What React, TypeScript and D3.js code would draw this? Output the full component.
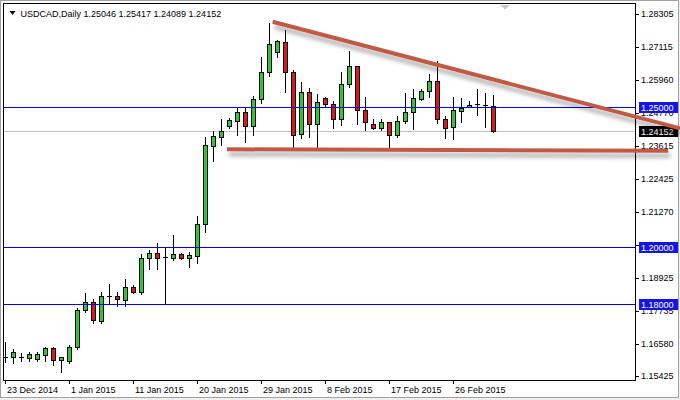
import * as d3 from 'd3';

// trading days (MT4 broker: no Saturday bars)
const dates = d3.timeDay
  .range(new Date(2014, 11, 23), new Date(2015, 2, 5))
  .filter(d => d.getDay() !== 6);

const opens = [
  1.16112, 1.16112, 1.16112, 1.16076, 1.16030, 1.16172, 1.16411, 1.15994, 1.15969, 1.16468,
  1.17773, 1.18069, 1.17393, 1.18271, 1.18271, 1.18129, 1.18602, 1.18414, 1.19613, 1.19791,
  1.19670, 1.19634, 1.19755, 1.19634, 1.19705, 1.20822, 1.23619, 1.23939, 1.24320, 1.24509,
  1.24807, 1.24331, 1.25270, 1.26231, 1.26964, 1.27319, 1.26241, 1.24025, 1.25519, 1.24381,
  1.25306, 1.25092, 1.24558, 1.25804, 1.26444, 1.24889, 1.24381, 1.24260, 1.24452, 1.24000,
  1.24498, 1.24807, 1.25270, 1.25565, 1.25921, 1.24569, 1.24267, 1.24864, 1.24985, 1.25092,
  1.25060, 1.25046,
];
const highs = [
  1.16645, 1.16386, 1.16233, 1.16268, 1.16290, 1.16468, 1.16468, 1.16112, 1.16528, 1.17834,
  1.18378, 1.18165, 1.18414, 1.18688, 1.18403, 1.18876, 1.18652, 1.19755, 1.19908, 1.20146,
  1.19969, 1.20442, 1.19801, 1.19848, 1.21118, 1.23939, 1.24160, 1.24558, 1.24615, 1.24943,
  1.24971, 1.25387, 1.26764, 1.27985, 1.27380, 1.27736, 1.26313, 1.25903, 1.25661, 1.25448,
  1.25341, 1.25210, 1.26231, 1.26989, 1.26460, 1.25341, 1.24569, 1.24569, 1.24473, 1.24687,
  1.25484, 1.25636, 1.25636, 1.26170, 1.26633, 1.24687, 1.25352, 1.25306, 1.25210, 1.25626,
  1.25484, 1.25417,
];
const lows = [
  1.15934, 1.15877, 1.15969, 1.15969, 1.15969, 1.15969, 1.15816, 1.15578, 1.15898, 1.16375,
  1.17713, 1.17300, 1.17321, 1.18033, 1.17916, 1.17926, 1.18367, 1.18332, 1.19221, 1.19221,
  1.17987, 1.19552, 1.19588, 1.19293, 1.19456, 1.20559, 1.23085, 1.23662, 1.24260, 1.24010,
  1.23761, 1.24000, 1.25128, 1.26099, 1.26786, 1.25540, 1.23527, 1.23882, 1.23939, 1.23548,
  1.25042, 1.24260, 1.24356, 1.25718, 1.24391, 1.24178, 1.24231, 1.24178, 1.23584, 1.23939,
  1.24416, 1.24213, 1.25245, 1.25362, 1.24416, 1.23882, 1.23847, 1.24473, 1.24980, 1.24711,
  1.24295, 1.24089,
];
const closes = [
  1.16112, 1.16290, 1.16112, 1.16208, 1.16208, 1.16411, 1.15994, 1.16090, 1.16468, 1.17773,
  1.18069, 1.17407, 1.18271, 1.18271, 1.18154, 1.18581, 1.18424, 1.19613, 1.19791, 1.19634,
  1.19670, 1.19755, 1.19634, 1.19730, 1.20822, 1.23644, 1.23964, 1.24142, 1.24534, 1.24807,
  1.24331, 1.25270, 1.26231, 1.27227, 1.27355, 1.26231, 1.24010, 1.25519, 1.24381, 1.25174,
  1.25092, 1.24558, 1.25804, 1.26444, 1.24889, 1.24452, 1.24260, 1.24452, 1.24000, 1.24498,
  1.24807, 1.25306, 1.25576, 1.25921, 1.24558, 1.24260, 1.24879, 1.24971, 1.25067, 1.25092,
  1.25060, 1.24152,
];

const priceTicks = [
  1.28305, 1.27115, 1.25960, 1.24770, 1.23615, 1.22425, 1.21270, 1.20080, 1.18925, 1.17735,
  1.16580, 1.15425,
];
const levels = [1.25, 1.2, 1.18];

// hand-drawn trendlines: [bar index, price] pairs
const trendlines = [
  { i0: 33.46, p0: 1.28031, i1: 84.4, p1: 1.24235 },
  { i0: 27.75, p0: 1.23491, i1: 82.9, p1: 1.23441 },
];

const W = 680;
const H = 400;
const plot = { left: 4, top: 4, right: 635, bottom: 380 };

const GREEN = '#2ccb2c';
const RED = '#d81a1a';
const LEVEL = '#0000ff';
const LEVEL_BOX = '#1414e6';
const TREND = '#c05a45';

export default function App() {
  const n = dates.length;
  const x = d3.scaleLinear().domain([0, 1]).range([5, 13]);
  const y = d3.scaleLinear().domain([1.15283, 1.28661]).range([plot.bottom, plot.top]);
  const fmtPrice = d3.format('.5f');
  const fmtDate = d3.timeFormat('%-d %b %Y');
  const crisp = (v: number) => Math.round(v) + 0.5;
  const last = n - 1;
  const bid = closes[last];

  const dateTicks = d3.range(0, n, 8);

  return (
    <svg
      width={W}
      height={H}
      style={{ position: 'absolute', left: 0, top: 0, fontFamily: '"Liberation Sans", Arial, sans-serif' }}
    >
      <defs>
        <clipPath id="plot-clip">
          <rect x={plot.left} y={plot.top} width={plot.right - plot.left} height={plot.bottom - plot.top} />
        </clipPath>
        <filter id="shadow" filterUnits="userSpaceOnUse" x={0} y={0} width={W} height={H}>
          <feDropShadow dx={2} dy={5} stdDeviation={2} floodColor="#000" floodOpacity={0.32} />
        </filter>
      </defs>

      <rect width={W} height={H} fill="#f0f0f0" />
      <rect x={0.5} y={0.5} width={W - 2} height={H - 3} fill="#fff" stroke="#a0a0a0" />

      <g clipPath="url(#plot-clip)">
        <rect x={plot.left} y={Math.round(y(bid))} width={plot.right - plot.left} height={1} fill="#c0c0c0" />

        {dates.map((d, i) => {
          const cx = Math.round(x(i));
          const o = opens[i];
          const c = closes[i];
          const yTop = y(Math.max(o, c));
          const yBot = y(Math.min(o, c));
          const doji = Math.abs(yBot - yTop) < 1;
          return (
            <g key={i}>
              <line x1={cx + 0.5} x2={cx + 0.5} y1={Math.round(y(highs[i]))} y2={Math.round(y(lows[i])) + 1} stroke="#000" />
              {doji ? (
                <line x1={cx - 2} x2={cx + 3} y1={crisp(yTop)} y2={crisp(yTop)} stroke="#000" />
              ) : (
                <rect
                  x={cx - 1.5}
                  y={Math.round(yTop) + 0.5}
                  width={4}
                  height={Math.max(1, Math.round(yBot) - Math.round(yTop))}
                  fill={c >= o ? GREEN : RED}
                  stroke="#000"
                />
              )}
            </g>
          );
        })}
      </g>

      {/* horizontal levels */}
      {levels.map(l => (
        <rect
          key={`lvl-${l}`}
          x={plot.left}
          y={Math.round(y(l))}
          width={plot.right - plot.left}
          height={1}
          fill={LEVEL}
          shapeRendering="crispEdges"
        />
      ))}

      <rect
        x={plot.left - 0.5}
        y={plot.top - 0.5}
        width={plot.right - plot.left + 1}
        height={plot.bottom - plot.top + 1}
        fill="none"
        stroke="#000"
      />

      {/* price axis */}
      {priceTicks.map(t => (
        <g key={t} transform={`translate(0,${Math.round(y(t))})`}>
          <line x1={plot.right} x2={plot.right + 4} y1={0.5} y2={0.5} stroke="#000" />
          <text x={641} y={0} dy="0.35em" fontSize={9} fill="#000">
            {fmtPrice(t)}
          </text>
        </g>
      ))}
      {levels.map(l => (
        <g key={l} transform={`translate(0,${Math.round(y(l))})`}>
          <rect x={639} y={-5} width={39} height={11} fill={LEVEL_BOX} />
          <text x={641} y={0.5} dy="0.35em" fontSize={9} fill="#fff">
            {fmtPrice(l)}
          </text>
        </g>
      ))}
      <g transform={`translate(0,${Math.round(y(bid))})`}>
        <rect x={639} y={-5} width={39} height={11} fill="#000" />
        <text x={641} y={0.5} dy="0.35em" fontSize={9} fill="#fff">
          {fmtPrice(bid)}
        </text>
      </g>

      {/* time axis */}
      {dateTicks.map(i => {
        const cx = Math.round(x(i)) + 0.5;
        return (
          <g key={i}>
            <line x1={cx} x2={cx} y1={plot.bottom} y2={plot.bottom + 4} stroke="#000" />
            <text x={cx + 1.5} y={393} fontSize={9} fill="#000">
              {fmtDate(dates[i])}
            </text>
          </g>
        );
      })}

      {/* chart shift marker */}
      <path
        d={`M${x(n + 0.5) - 5},5 L${x(n + 0.5) + 5},5 L${x(n + 0.5)},9.5 Z`}
        fill="#c8c8c8"
      />

      {/* title */}
      <path d="M9.5,11 L15.5,11 L12.5,15 Z" fill="#000" />
      <text x={20.5} y={16.5} fontSize={9} fill="#000">
        {`USDCAD,Daily  ${fmtPrice(opens[last])} ${fmtPrice(highs[last])} ${fmtPrice(lows[last])} ${fmtPrice(closes[last])}`}
      </text>

      {/* trendlines */}
      <g filter="url(#shadow)">
        {trendlines.map((t, k) => (
          <line
            key={k}
            x1={x(t.i0)}
            y1={y(t.p0)}
            x2={x(t.i1)}
            y2={y(t.p1)}
            stroke={TREND}
            strokeWidth={4}
          />
        ))}
      </g>
    </svg>
  );
}
